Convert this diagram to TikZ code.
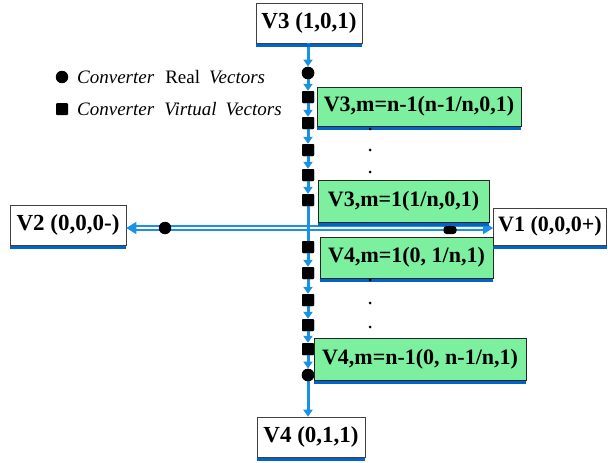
\documentclass[tikz,border=0pt]{standalone}
\usepackage{fontspec}
\setmainfont{Liberation Serif}
\usetikzlibrary{arrows.meta}
\definecolor{lblue}{RGB}{25,145,230}
\definecolor{sblue}{RGB}{0,100,200}
\definecolor{mint}{RGB}{125,240,160}
\tikzset{
  wbox/.style={draw=black!75, fill=white, line width=0.6pt, inner sep=0pt,
    font=\fontsize{23}{26}\selectfont\bfseries},
  gbox/.style={wbox, fill=mint, draw=black!85, font=\fontsize{22}{26}\selectfont\bfseries},
  vseg/.style={draw=lblue, line width=3pt, -{Triangle[length=7pt,width=9pt]}},
  hline/.style={draw=lblue, line width=1.6pt, double=white, double distance=2pt,
    -{Triangle[length=10pt,width=12pt]}},
  rdot/.style={circle, fill=black, inner sep=0pt, minimum size=12.5pt},
  sdot/.style={rectangle, rounded corners=1pt, fill=black, inner sep=0pt, minimum size=12pt},
  pdot/.style={circle, fill=black, inner sep=0pt, minimum size=3pt},
  legtext/.style={anchor=west, inner sep=0pt, font=\fontsize{19}{22}\selectfont},
  shad/.style={draw=sblue, line width=3pt}
}
\begin{document}
\begin{tikzpicture}[x=1pt,y=-1pt]
\useasboundingbox (0,0) rectangle (608,463);
% boxes (white)
\node[wbox, minimum width=106pt, minimum height=40pt] (V3) at (309,23) {V3 (1,0,1)};
\node[wbox, minimum width=116pt, minimum height=40pt] (V2) at (68,225) {V2 (0,0,0-)};
\node[wbox, minimum width=113pt, minimum height=37pt, font=\fontsize{22}{26}\selectfont\bfseries] (V1) at (550,226.5) {V1 (0,0,0+)};
\node[wbox, minimum width=108pt, minimum height=40pt] (V4) at (311,437) {V4 (0,1,1)};
% markers on vertical axis
\coordinate (hc) at (308,228);
\node[rdot] (c1) at (308,73) {};
\node[sdot] (s1) at (308,97) {};
\node[sdot] (s2) at (308,123) {};
\node[sdot] (s3) at (308,150) {};
\node[sdot] (s4) at (308,175) {};
\node[sdot] (s5) at (308,200) {};
\node[sdot] (s6) at (308,247) {};
\node[sdot] (s7) at (308,273) {};
\node[sdot] (s8) at (308,300) {};
\node[sdot] (s9) at (308,325) {};
\node[sdot] (s10) at (308,349) {};
\node[rdot] (c2) at (308,375) {};
% horizontal axis
\draw[hline] (hc) -- (hc -| V2.east);
\draw[hline] (hc) -- (hc -| V1.west);
\node[rdot] (c3) at (165,228) {};
\node[rectangle, rounded corners=3pt, fill=black, inner sep=0pt, minimum width=13pt, minimum height=8pt] (s11) at (450,230) {};
% vertical axis segments
\draw[vseg] (c1 |- V3.south) -- (c1);
\draw[vseg] (c1) -- (s1);
\draw[vseg] (s1) -- (s2);
\draw[vseg] (s2) -- (s3);
\draw[vseg] (s3) -- (s4);
\draw[vseg] (s4) -- (s5);
\draw[draw=lblue, line width=3pt] (s5) -- (s6);
\draw[vseg] (s6) -- (s7);
\draw[vseg] (s7) -- (s8);
\draw[vseg] (s8) -- (s9);
\draw[vseg] (s9) -- (s10);
\draw[vseg] (s10) -- (c2);
\draw[vseg] (c2) -- (c2 |- V4.north);
% redraw markers on top
\node[rdot] at (c1) {};
\foreach \m in {s1,s2,s3,s4,s5,s6,s7,s8,s9,s10} \node[sdot] at (\m) {};
\node[rdot] at (c2) {};
% green boxes
\node[gbox, minimum width=204pt, minimum height=39pt] (G1) at (419,106.5) {V3,m=n-1(n-1/n,0,1)};
\node[gbox, minimum width=171pt, minimum height=42pt] (G2) at (403.5,201) {V3,m=1(1/n,0,1)};
\node[gbox, minimum width=173pt, minimum height=41pt] (G3) at (406.5,257.5) {V4,m=1(0, 1/n,1)};
\node[gbox, minimum width=212pt, minimum height=42pt] (G4) at (420,359) {V4,m=n-1(0, n-1/n,1)};
% shadows
\foreach \n in {V1,V2,V3,V4,G1,G2,G3,G4}
  \draw[shad] ([yshift=-1.8pt]\n.south west) -- ([yshift=-1.8pt]\n.south east);
% continuation dots
\node[pdot] (d1) at (370,129) {};
\node[pdot] (d2) at (370,150) {};
\node[pdot] (d3) at (370,172) {};
\node[pdot] (d4) at (370,280) {};
\node[pdot] (d5) at (370,303) {};
\node[pdot] (d6) at (370,327) {};
% legend
\node[rdot] (lc) at (62,77) {};
\node[sdot] (ls) at (62,109) {};
\node[legtext] (l1) at (77,77) {\textit{Converter}\hspace{11pt}Real\hspace{9pt}\textit{Vectors}};
\node[legtext] (l2) at (77,109) {\textit{Converter}\hspace{10pt}\textit{Virtual}\hspace{9pt}\textit{Vectors}};
\end{tikzpicture}
\end{document}
